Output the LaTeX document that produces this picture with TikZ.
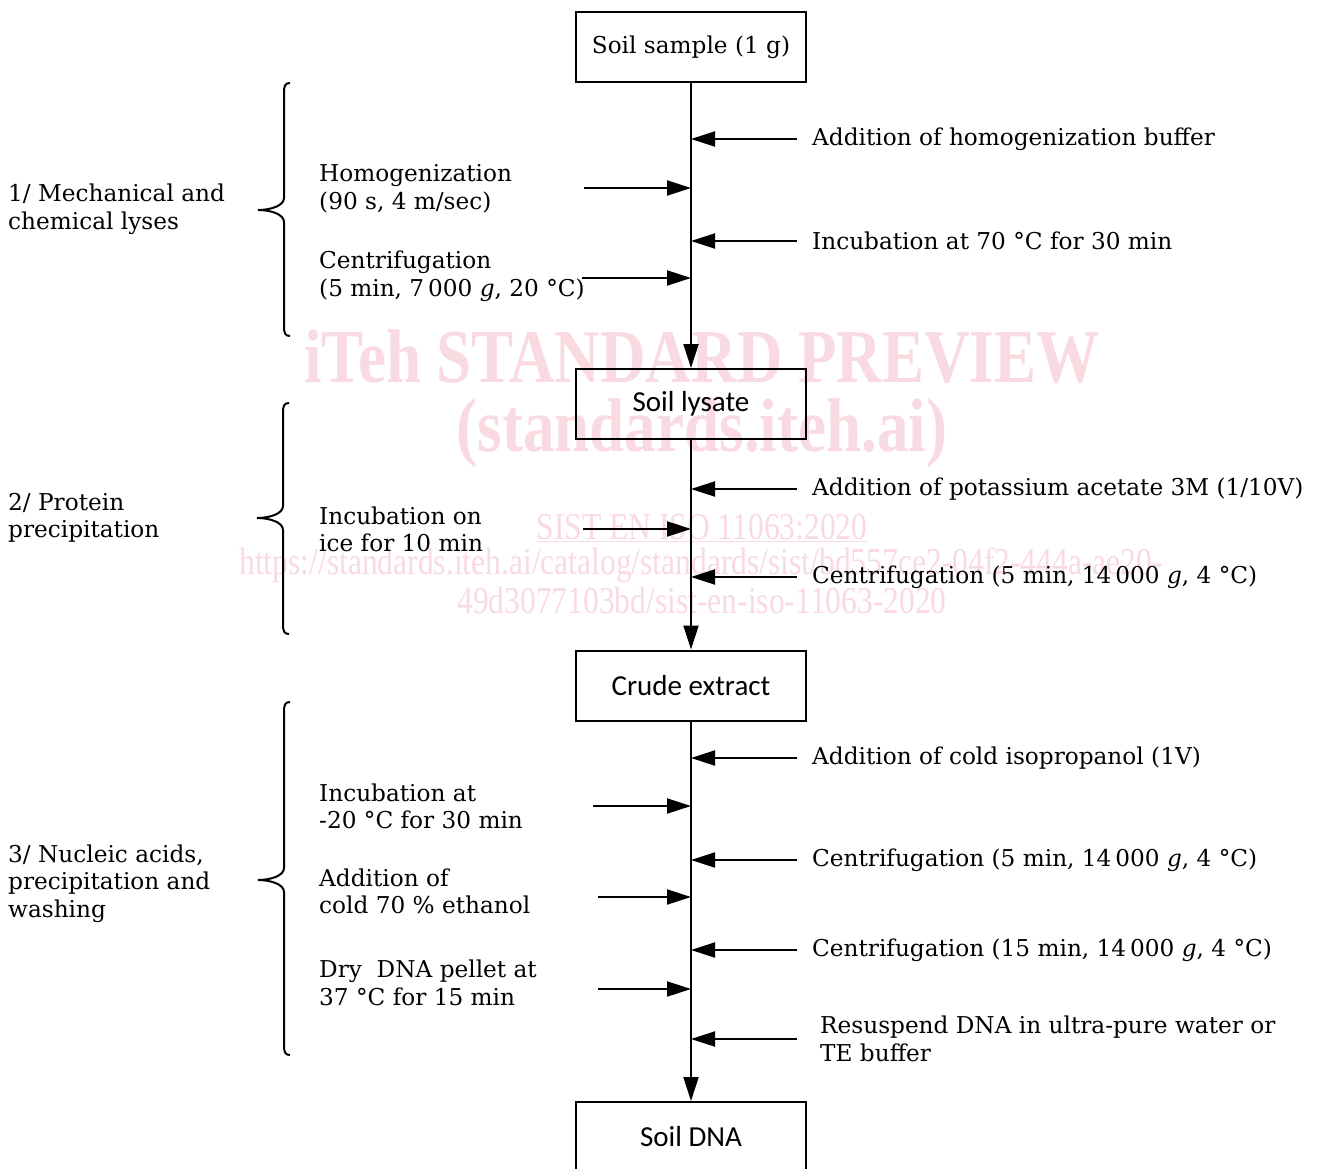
\documentclass[tikz,border=0pt]{standalone}
\usepackage{fontspec}
\usepackage{graphicx}
\setmainfont{DejaVu Serif}
\newfontfamily\boxfont{Carlito}
\newfontfamily\wmfont{Liberation Serif}
\usetikzlibrary{arrows.meta}
\definecolor{wm}{RGB}{250,218,225}
\newcommand\mybrace[4]{\draw[line width=2pt] (#1+6,#2) .. controls (#1+1,#2) and (#1,#2+3) .. (#1,#2+10) -- (#1,#3-12) .. controls (#1,#3-4) and (#1-14,#3) .. (#1-26,#3) .. controls (#1-14,#3) and (#1,#3+4) .. (#1,#3+12) -- (#1,#4-10) .. controls (#1,#4-3) and (#1+1,#4) .. (#1+6,#4);}
\begin{document}
\begin{tikzpicture}[x=1pt,y=-1pt,
  txt/.style={font=\fontsize{23.2}{27.5}\selectfont, inner sep=0pt, align=left, anchor=west},
  box/.style={draw, line width=2pt, minimum width=230pt, minimum height=70pt, inner sep=0pt, font=\boxfont\fontsize{29}{34}\selectfont},
  flow/.style={line width=2pt, -{Triangle[length=24pt,width=15pt]}},
  wmtxt/.style={text=wm, inner sep=0pt}]
\useasboundingbox (0,0) rectangle (1317,1169);
\fill[white] (0,0) rectangle (1317,1169);
% watermark
\node[wmtxt, font=\wmfont\bfseries\fontsize{76}{80}\selectfont] (w1) at (702,357) {\scalebox{0.83}[1]{iTeh STANDARD PREVIEW}};
\node[wmtxt, font=\wmfont\bfseries\fontsize{76}{80}\selectfont] (w2) at (702,433) {\scalebox{0.83}[1]{(standards.iteh.ai)}};
\node[wmtxt, font=\wmfont\fontsize{38}{40}\selectfont] (w3) at (702,528) {\scalebox{0.83}[1]{\underline{SIST EN ISO 11063:2020}}};
\node[wmtxt, font=\wmfont\fontsize{38}{40}\selectfont] (w4) at (701,565) {\scalebox{0.83}[1]{https://standards.iteh.ai/catalog/standards/sist/bd557ce2-04f2-444a-ae20-}};
\node[wmtxt, font=\wmfont\fontsize{38}{40}\selectfont] (w5) at (702,600) {\scalebox{0.83}[1]{49d3077103bd/sist-en-iso-11063-2020}};
% boxes
\node[box, font=\fontsize{23.2}{27.5}\selectfont] (b1) at (691,47) {Soil sample (1 g)};
\node[box] (b2) at (691,404) {Soil lysate};
\node[box] (b3) at (691,685.5) {Crude extract};
\node[box] (b4) at (691,1137) {Soil DNA};
\draw[flow] (b1) -- (b2);
\draw[flow] (b2) -- (b3);
\draw[flow] (b3) -- (b4);
% right side inputs
\foreach \n/\y/\xt/\t in {
  1/139/812/{Addition of homogenization buffer},
  2/241/812/{Incubation at 70 °C for 30 min},
  3/489/812/{Addition of potassium acetate 3M (1/10V)},
  4/577/812/{Centrifugation (5 min, 14\,000 \textit{g}, 4 °C)},
  5/758/812/{Addition of cold isopropanol (1V)},
  6/860/812/{Centrifugation (5 min, 14\,000 \textit{g}, 4 °C)},
  7/950/812/{Centrifugation (15 min, 14\,000 \textit{g}, 4 °C)},
  8/1039/820/{Resuspend DNA in ultra-pure water or\\TE buffer}}{
  \node[txt] (rt\n) at (\xt,\y) {\t};
  \coordinate (rs\n) at (797,\y);
  \coordinate (re\n) at (691,\y);
  \draw[flow] (rs\n) -- (re\n);
}
% left side inputs
\foreach \n/\y/\xs in {1/188/584, 2/278/582, 3/529/583, 4/806/593, 5/897/598, 6/989/598}{
  \coordinate (ls\n) at (\xs,\y);
  \coordinate (le\n) at (691,\y);
  \draw[flow] (ls\n) -- (le\n);
}
\node[txt] (lt1) at (319,189) {Homogenization\\(90 s, 4 m/sec)};
\node[txt] (lt2) at (319,276.5) {Centrifugation\\(5 min, 7\,000 \textit{g}, 20 °C)};
\node[txt] (lt3) at (319,529.5) {Incubation on\\ice for 10 min};
\node[txt] (lt4) at (319,806.5) {Incubation at\\-20 °C for 30 min};
\node[txt] (lt5) at (319,891.5) {Addition of\\cold 70 \% ethanol};
\node[txt] (lt6) at (319,983) {Dry\ \ DNA pellet at\\37 °C for 15 min};
% braces and phase labels
\mybrace{284}{83}{210}{336}
\mybrace{283}{403}{518}{634}
\mybrace{284}{702}{880}{1055}
\node[txt] (p1) at (8,209.5) {1/ Mechanical and\\chemical lyses};
\node[txt] (p2) at (8,518) {2/ Protein\\precipitation};
\node[txt] (p3) at (8,883.5) {3/ Nucleic acids,\\precipitation and\\washing};
\end{tikzpicture}
\end{document}
